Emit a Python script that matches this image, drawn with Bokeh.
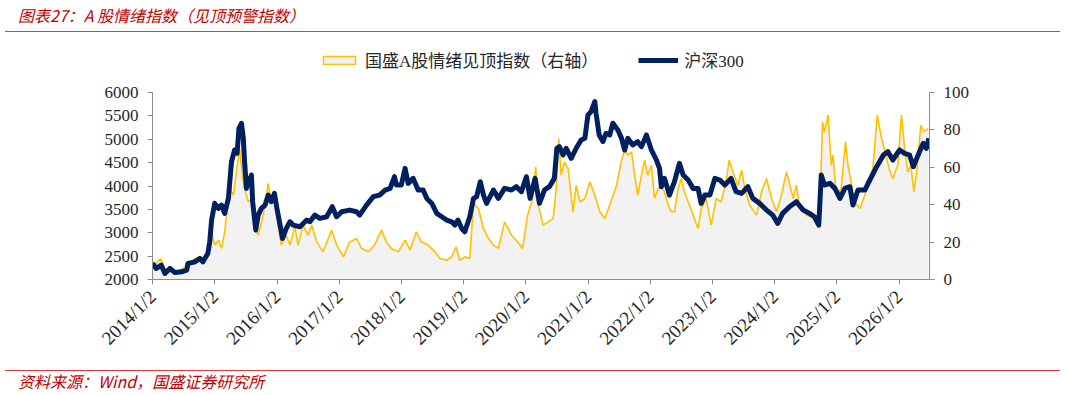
import math
from bokeh.plotting import figure
from bokeh.models import (Range1d, LinearAxis, FixedTicker, Legend, LegendItem,
                          ColumnDataSource, Div)
from bokeh.layouts import column
from bokeh.embed import file_html
from bokeh.resources import INLINE

# ---------------- data ----------------
# time is given as a decimal year
hs300_year = [
    2014.00, 2014.06, 2014.14, 2014.20, 2014.28, 2014.36, 2014.47, 2014.55, 2014.57, 2014.68,
    2014.76, 2014.81, 2014.89, 2014.92, 2014.95, 2015.00, 2015.06, 2015.11, 2015.16, 2015.22,
    2015.27, 2015.32, 2015.36, 2015.39, 2015.43, 2015.46, 2015.48, 2015.51, 2015.54, 2015.56,
    2015.59, 2015.61, 2015.66, 2015.70, 2015.75, 2015.81, 2015.86, 2015.91, 2015.96, 2016.00,
    2016.05, 2016.09, 2016.15, 2016.21, 2016.26, 2016.37, 2016.48, 2016.53, 2016.61, 2016.69,
    2016.80, 2016.89, 2016.96, 2017.04, 2017.17, 2017.28, 2017.33, 2017.44, 2017.55, 2017.65,
    2017.74, 2017.82, 2017.89, 2017.92, 2018.00, 2018.06, 2018.11, 2018.19, 2018.27, 2018.35,
    2018.41, 2018.49, 2018.57, 2018.65, 2018.73, 2018.81, 2018.86, 2018.91, 2018.97, 2019.02,
    2019.10, 2019.16, 2019.21, 2019.27, 2019.32, 2019.37, 2019.48, 2019.56, 2019.66, 2019.77,
    2019.85, 2019.93, 2020.01, 2020.07, 2020.15, 2020.22, 2020.30, 2020.38, 2020.46, 2020.50,
    2020.54, 2020.60, 2020.65, 2020.73, 2020.81, 2020.89, 2020.95, 2021.00, 2021.05, 2021.11,
    2021.13, 2021.18, 2021.24, 2021.29, 2021.35, 2021.40, 2021.48, 2021.54, 2021.59, 2021.64,
    2021.72, 2021.80, 2021.86, 2021.94, 2022.02, 2022.10, 2022.15, 2022.18, 2022.23, 2022.31,
    2022.39, 2022.47, 2022.53, 2022.61, 2022.69, 2022.77, 2022.82, 2022.88, 2022.96, 2023.04,
    2023.12, 2023.20, 2023.30, 2023.38, 2023.47, 2023.57, 2023.65, 2023.76, 2023.87, 2023.97,
    2024.05, 2024.13, 2024.24, 2024.35, 2024.46, 2024.56, 2024.64, 2024.71, 2024.75, 2024.80,
    2024.89, 2024.97, 2025.05, 2025.13, 2025.21, 2025.26, 2025.34, 2025.45, 2025.53, 2025.64,
    2025.75, 2025.82, 2025.90, 2026.01, 2026.09, 2026.17, 2026.23, 2026.33, 2026.39, 2026.44,
    2026.48,
]
hs300_close = [
    2343, 2236, 2307, 2128, 2236, 2150, 2164, 2200, 2343, 2378,
    2450, 2378, 2557, 2807, 3271, 3628, 3521, 3592, 3414, 3735,
    4520, 4770, 4699, 5234, 5342, 5020, 4520, 3949, 4163, 4021,
    4235, 3664, 3057, 3378, 3521, 3592, 3806, 3664, 3842, 3521,
    3164, 2878, 3092, 3235, 3164, 3128, 3271, 3235, 3378, 3307,
    3342, 3557, 3342, 3449, 3485, 3449, 3378, 3592, 3771, 3806,
    3914, 3949, 4199, 4021, 4021, 4378, 4056, 4163, 3914, 3914,
    3735, 3628, 3414, 3342, 3271, 3235, 3164, 3271, 3092, 3021,
    3342, 3735, 3771, 4092, 3806, 3628, 3914, 3735, 3949, 3914,
    3985, 3878, 4199, 3735, 4163, 3628, 3914, 3985, 4163, 4806,
    4842, 4663, 4806, 4592, 4806, 4985, 5020, 5520, 5591, 5806,
    5556, 5092, 4949, 5127, 5092, 5342, 5199, 5020, 4770, 5020,
    4878, 4949, 4842, 5092, 4770, 4556, 4378, 3985, 4163, 3806,
    4092, 4485, 4235, 4128, 3949, 3949, 3628, 3806, 3806, 4163,
    4128, 4021, 4163, 3878, 3842, 3985, 3735, 3628, 3485, 3378,
    3199, 3414, 3557, 3664, 3485, 3414, 3342, 3164, 4235, 4021,
    4056, 3949, 3735, 3949, 3985, 3592, 3914, 3914, 4128, 4413,
    4663, 4735, 4556, 4770, 4699, 4663, 4413, 4735, 4913, 4806,
    5020,
]

senti_year = [
    2014.00, 2014.06, 2014.13, 2014.20, 2014.28, 2014.39, 2014.49, 2014.57, 2014.68, 2014.76,
    2014.84, 2014.89, 2014.95, 2015.00, 2015.06, 2015.11, 2015.16, 2015.24, 2015.30, 2015.35,
    2015.40, 2015.45, 2015.48, 2015.54, 2015.59, 2015.65, 2015.70, 2015.78, 2015.86, 2015.91,
    2015.96, 2016.02, 2016.07, 2016.15, 2016.21, 2016.29, 2016.34, 2016.42, 2016.50, 2016.56,
    2016.64, 2016.74, 2016.88, 2016.96, 2017.07, 2017.17, 2017.28, 2017.36, 2017.47, 2017.57,
    2017.68, 2017.76, 2017.84, 2017.95, 2018.06, 2018.14, 2018.24, 2018.32, 2018.43, 2018.54,
    2018.62, 2018.73, 2018.81, 2018.88, 2018.94, 2019.02, 2019.10, 2019.16, 2019.24, 2019.32,
    2019.40, 2019.48, 2019.56, 2019.66, 2019.77, 2019.87, 2019.95, 2020.03, 2020.11, 2020.16,
    2020.20, 2020.28, 2020.36, 2020.44, 2020.49, 2020.53, 2020.57, 2020.62, 2020.68, 2020.76,
    2020.81, 2020.87, 2020.95, 2021.03, 2021.11, 2021.19, 2021.27, 2021.35, 2021.46, 2021.54,
    2021.59, 2021.64, 2021.70, 2021.75, 2021.80, 2021.86, 2021.91, 2021.96, 2022.02, 2022.07,
    2022.13, 2022.18, 2022.23, 2022.29, 2022.34, 2022.39, 2022.45, 2022.50, 2022.55, 2022.63,
    2022.71, 2022.77, 2022.82, 2022.90, 2022.98, 2023.06, 2023.14, 2023.22, 2023.27, 2023.33,
    2023.41, 2023.47, 2023.52, 2023.60, 2023.71, 2023.79, 2023.87, 2023.95, 2024.03, 2024.11,
    2024.19, 2024.24, 2024.30, 2024.35, 2024.40, 2024.51, 2024.59, 2024.67, 2024.72, 2024.77,
    2024.80, 2024.86, 2024.91, 2024.94, 2024.99, 2025.07, 2025.14, 2025.18, 2025.23, 2025.29,
    2025.37, 2025.45, 2025.53, 2025.58, 2025.65, 2025.72, 2025.77, 2025.84, 2025.90, 2025.98,
    2026.04, 2026.09, 2026.14, 2026.19, 2026.24, 2026.29, 2026.35, 2026.40, 2026.47,
]
senti_index = [
    9.4, 8.6, 11.2, 5.9, 5.0, 4.1, 5.9, 7.7, 11.2, 12.1,
    11.2, 13.0, 25.5, 18.4, 21.0, 16.6, 25.5, 48.7, 45.1, 57.6,
    70.1, 54.0, 48.7, 41.5, 43.3, 27.3, 23.7, 34.4, 51.3, 41.5,
    45.1, 29.1, 18.4, 23.7, 18.4, 28.2, 18.4, 29.1, 23.7, 29.1,
    20.1, 14.8, 26.4, 18.4, 12.1, 20.1, 21.9, 16.6, 14.8, 18.4,
    26.4, 20.1, 16.6, 14.8, 21.0, 15.7, 25.5, 20.1, 18.4, 14.8,
    11.2, 10.3, 12.1, 17.5, 10.3, 12.1, 11.2, 40.6, 38.0, 27.3,
    21.9, 18.4, 16.6, 30.8, 23.7, 20.1, 16.6, 34.4, 43.3, 60.2,
    39.8, 29.1, 30.8, 32.6, 48.7, 75.4, 55.8, 62.9, 59.4, 36.2,
    50.4, 41.5, 43.3, 52.2, 45.1, 36.2, 32.6, 39.8, 50.4, 63.8,
    69.2, 66.5, 68.3, 55.8, 45.1, 55.8, 63.8, 55.8, 61.1, 43.3,
    48.7, 49.6, 46.9, 39.8, 36.2, 36.2, 48.7, 54.0, 46.9, 39.8,
    32.6, 27.3, 38.0, 43.3, 29.1, 43.3, 41.5, 52.2, 63.8, 57.6,
    50.4, 58.5, 48.7, 39.8, 34.4, 46.9, 54.0, 43.3, 36.2, 45.1,
    57.6, 51.3, 43.3, 50.4, 39.8, 34.4, 33.5, 30.8, 27.3, 84.3,
    79.0, 87.9, 61.1, 66.5, 45.1, 48.7, 73.6, 61.1, 52.2, 41.5,
    38.0, 45.1, 54.0, 59.4, 87.9, 75.4, 69.2, 59.4, 54.0, 61.1,
    87.9, 70.1, 57.6, 61.1, 46.9, 59.4, 82.5, 79.0, 80.7,
]

tick_years = [2014, 2015, 2016, 2017, 2018, 2019, 2020, 2021, 2022, 2023, 2024, 2025, 2026]
tick_labels = ["2014/1/2", "2015/1/2", "2016/1/2", "2017/1/2", "2018/1/2", "2019/1/2",
               "2020/1/2", "2021/1/2", "2022/1/2", "2023/1/2", "2024/1/2", "2025/1/2",
               "2026/1/2"]
left_ticks = [2000, 2500, 3000, 3500, 4000, 4500, 5000, 5500, 6000]
right_ticks = [0, 20, 40, 60, 80, 100]
x_end_year = 2026.49

series_names = ["国盛A股情绪见顶指数（右轴）", "沪深300"]
title_text = "图表27：A 股情绪指数（见顶预警指数）"
source_text = "资料来源：Wind，国盛证券研究所"

hs_src = ColumnDataSource(dict(x=hs300_year, v=hs300_close))
se_src = ColumnDataSource(dict(x=senti_year, v=senti_index))
tick_pos = [y + 1.0 / 365.0 for y in tick_years]      # 2 January of each year

RED_TXT = "#C00000"
RED_LINE = "#DC3C3C"
NAVY = "#002060"
GOLD = "#FFC000"
AXIS_GRAY = "#8C8C8C"
LABEL_COLOR = "#262626"
SERIF = "Liberation Serif"
MIXED = "'Liberation Serif', 'Noto Sans CJK SC'"

W = 1065
HEAD_H, FOOT_H = 40, 25
FIG_H = 395 - HEAD_H - FOOT_H          # 330
FRAME_TOP = 2                          # frame top inside the figure (legend lives there)
AXIS_TOP = 52                          # where the value axes end (6000 / 100)
FRAME_BOTTOM = 239                     # frame bottom inside the figure
span_px = FRAME_BOTTOM - AXIS_TOP
frame_px = FRAME_BOTTOM - FRAME_TOP
left_lo, left_hi = left_ticks[0], left_ticks[-1]
right_lo, right_hi = right_ticks[0], right_ticks[-1]
left_top = left_lo + (left_hi - left_lo) * frame_px / span_px
right_top = right_lo + (right_hi - right_lo) * frame_px / span_px

# ---------------- header (title + red rule) ----------------
header = Div(width=W, height=HEAD_H, margin=0, text=(
    f'<div style="position:relative;width:{W}px;height:{HEAD_H}px;margin:0;padding:0;">'
    f'<div style="position:absolute;left:18px;top:5px;white-space:nowrap;'
    f'font-family:\'Noto Sans CJK SC\';font-style:italic;font-size:16px;line-height:20px;'
    f'color:{RED_TXT};">{title_text}</div>'
    f'<div style="position:absolute;left:5px;top:31px;width:1055px;height:0;'
    f'border-top:1.3px solid {RED_LINE};"></div></div>'))

# ---------------- main chart ----------------
p = figure(width=W, height=FIG_H, x_range=Range1d(tick_years[0], x_end_year),
           y_range=Range1d(left_lo, left_top),
           toolbar_location=None, output_backend="svg", margin=0,
           min_border_left=152, min_border_right=136, min_border_top=FRAME_TOP,
           min_border_bottom=FIG_H - FRAME_BOTTOM)
p.extra_y_ranges = {"r": Range1d(right_lo, right_top)}
p.grid.visible = False
p.outline_line_color = None
p.background_fill_color = "white"

p.varea(x="x", y1=0, y2="v", source=se_src, fill_color="#F2F2F2", y_range_name="r")
p.line(x="x", y="v", source=se_src, line_color=GOLD, line_width=1.6, y_range_name="r")
navy = p.line(x="x", y="v", source=hs_src, line_color=NAVY, line_width=5,
              line_join="round")
# renderer that only feeds the legend swatch (hidden on the plot itself)
legend_box = p.quad(left="x", right="x", bottom=0, top="v", source=se_src,
                    y_range_name="r", fill_color="#F2F2F2", line_color=GOLD,
                    line_width=1.5, visible=False)

right_axis = LinearAxis(y_range_name="r")
p.add_layout(right_axis, "right")

for ax in [p.xaxis[0], p.yaxis[0], right_axis]:
    ax.axis_line_color = AXIS_GRAY
    ax.major_tick_line_color = AXIS_GRAY
    ax.major_tick_in = 0
    ax.major_tick_out = 5
    ax.minor_tick_line_color = None
    ax.major_label_text_font = SERIF
    ax.major_label_text_font_size = "17px"
    ax.major_label_text_color = LABEL_COLOR
    ax.major_label_standoff = 9

p.yaxis[0].ticker = FixedTicker(ticks=left_ticks)
p.yaxis[0].bounds = (left_lo, left_hi)
right_axis.ticker = FixedTicker(ticks=right_ticks)
right_axis.bounds = (right_lo, right_hi)
p.xaxis[0].ticker = FixedTicker(ticks=tick_pos)
p.xaxis[0].major_label_overrides = {t: lab for t, lab in zip(tick_pos, tick_labels)}
p.xaxis[0].major_label_orientation = math.pi / 4
p.xaxis[0].major_label_standoff = 9
p.xaxis[0].major_label_text_font_size = "19px"

legend = Legend(items=[LegendItem(label=series_names[0], renderers=[legend_box]),
                       LegendItem(label=series_names[1], renderers=[navy])],
                location=(167, 207), orientation="horizontal",
                glyph_width=40, glyph_height=10, spacing=40, label_standoff=6,
                padding=5, margin=0, border_line_color=None, background_fill_alpha=0,
                inactive_fill_alpha=0,
                label_text_font=MIXED, label_text_font_size="17px",
                label_text_color=LABEL_COLOR)
p.add_layout(legend, "center")

# ---------------- footer (red rule + source) ----------------
footer = Div(width=W, height=FOOT_H, margin=0, text=(
    f'<div style="position:relative;width:{W}px;height:{FOOT_H}px;margin:0;padding:0;">'
    f'<div style="position:absolute;left:5px;top:0px;width:1055px;height:0;'
    f'border-top:1.3px solid {RED_LINE};"></div>'
    f'<div style="position:absolute;left:18px;top:1px;white-space:nowrap;'
    f'font-family:\'Noto Sans CJK SC\';font-style:italic;font-size:16px;line-height:20px;'
    f'color:{RED_TXT};">{source_text}</div></div>'))

layout = column(header, p, footer, spacing=0, margin=0)
open("out.html", "w").write(file_html(layout, INLINE))
